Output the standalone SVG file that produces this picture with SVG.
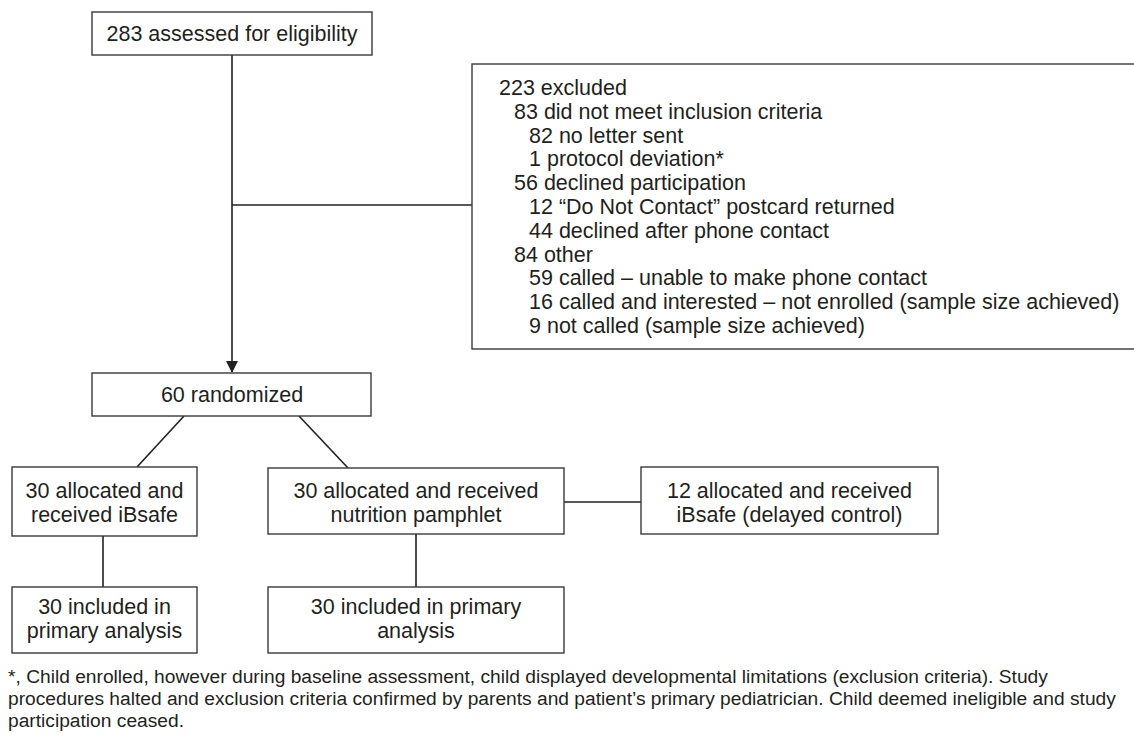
<svg xmlns="http://www.w3.org/2000/svg" width="1134" height="748" viewBox="0 0 1134 748">
<style>
.box{fill:#fff;stroke:#3a3a3a;stroke-width:1.4}
.ln{fill:none;stroke:#231f20;stroke-width:1.6}
text{font-family:"Liberation Sans",Arial,Helvetica,sans-serif;fill:#231f20}
.t{font-size:21.5px}
.c{text-anchor:middle}
.f{font-size:19.2px}
</style>
<defs>
<marker id="arr" markerWidth="12" markerHeight="12" refX="11" refY="6" orient="auto" markerUnits="userSpaceOnUse">
<path d="M0,0 L12,6 L0,12 Z" fill="#231f20"/>
</marker>
</defs>
<rect width="1134" height="748" fill="#fff"/>
<g id="connectors">
<line class="ln" x1="232" y1="55" x2="232" y2="372" marker-end="url(#arr)"/>
<line class="ln" x1="232" y1="205" x2="472" y2="205"/>
<line class="ln" x1="184" y1="416" x2="137" y2="467"/>
<line class="ln" x1="299" y1="416" x2="348" y2="468"/>
<line class="ln" x1="564" y1="502" x2="641" y2="502"/>
<line class="ln" x1="103" y1="536" x2="103" y2="587"/>
<line class="ln" x1="416" y1="534" x2="416" y2="587"/>
</g>
<g id="assessed">
<rect class="box" x="92" y="12" width="280" height="43"/>
<text class="t c" x="232" y="41">283 assessed for eligibility</text>
</g>
<g id="excluded">
<rect class="box" x="472" y="64" width="680" height="285"/>
<text class="t" x="499" y="95">223 excluded</text>
<text class="t" x="514" y="118.8">83 did not meet inclusion criteria</text>
<text class="t" x="529" y="142.6">82 no letter sent</text>
<text class="t" x="529" y="166.4">1 protocol deviation*</text>
<text class="t" x="514" y="190.2">56 declined participation</text>
<text class="t" x="529" y="214">12 “Do Not Contact” postcard returned</text>
<text class="t" x="529" y="237.8">44 declined after phone contact</text>
<text class="t" x="514" y="261.6">84 other</text>
<text class="t" x="529" y="285.4">59 called – unable to make phone contact</text>
<text class="t" x="529" y="309.2">16 called and interested – not enrolled (sample size achieved)</text>
<text class="t" x="529" y="333">9 not called (sample size achieved)</text>
</g>
<g id="randomized">
<rect class="box" x="92" y="373" width="279" height="43"/>
<text class="t c" x="232" y="402">60 randomized</text>
</g>
<g id="ibsafe">
<rect class="box" x="12" y="467" width="185" height="69"/>
<text class="t c" x="104.5" y="498">30 allocated and</text>
<text class="t c" x="104.5" y="522">received iBsafe</text>
</g>
<g id="pamphlet">
<rect class="box" x="268" y="468" width="296" height="66"/>
<text class="t c" x="416" y="498">30 allocated and received</text>
<text class="t c" x="416" y="522">nutrition pamphlet</text>
</g>
<g id="delayed">
<rect class="box" x="641" y="467" width="297" height="67"/>
<text class="t c" x="789.5" y="498">12 allocated and received</text>
<text class="t c" x="789.5" y="522">iBsafe (delayed control)</text>
</g>
<g id="incl1">
<rect class="box" x="12" y="587" width="185" height="66"/>
<text class="t c" x="104.5" y="614">30 included in</text>
<text class="t c" x="104.5" y="638">primary analysis</text>
</g>
<g id="incl2">
<rect class="box" x="268" y="587" width="296" height="66"/>
<text class="t c" x="416" y="614">30 included in primary</text>
<text class="t c" x="416" y="638">analysis</text>
</g>
<g id="footnote">
<text class="f" x="8" y="683">*, Child enrolled, however during baseline assessment, child displayed developmental limitations (exclusion criteria). Study</text>
<text class="f" x="8" y="705">procedures halted and exclusion criteria confirmed by parents and patient’s primary pediatrician. Child deemed ineligible and study</text>
<text class="f" x="8" y="727">participation ceased.</text>
</g>
</svg>
